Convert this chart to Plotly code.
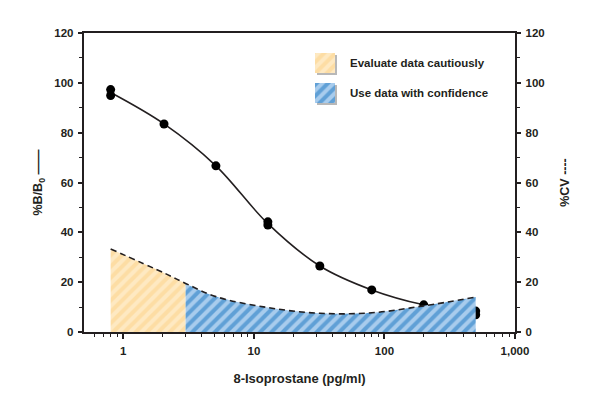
import math
import plotly.graph_objects as go

# ---------------- data ----------------
conc_rep = [0.8, 0.8, 2.05, 5.12, 12.8, 12.8, 32, 80, 200, 500, 500]
bb0_rep = [97.3, 94.9, 83.5, 66.7, 44.2, 42.9, 26.5, 16.9, 10.9, 8.4, 6.9]

conc = [0.8, 2.05, 5.12, 12.8, 32, 80, 200, 500]
bb0_mean = [96.1, 83.5, 66.7, 43.5, 26.5, 16.9, 10.9, 7.6]

cv_conc = [0.8, 2.05, 3.0, 5.12, 12.8, 32, 80, 200, 500]
cv = [33.3, 23.7, 19.5, 14.2, 9.8, 7.5, 7.7, 10.5, 14.0]

boundary = 3.0
legend_labels = ["Evaluate data cautiously", "Use data with confidence"]
x_tickvals = [1, 10, 100, 1000]
x_ticktext = ["1", "10", "100", "1,000"]

# ---------------- styles ----------------
INK = "#231f20"
FONT = "Liberation Sans, Arial, sans-serif"
YEL_BG, YEL_FG = "#fee9c2", "#fcd185"
BLU_BG, BLU_FG = "#a8cced", "#1774bf"

yel_pat = dict(shape="/", bgcolor=YEL_BG, fgcolor=YEL_FG, size=8, solidity=0.5)
blu_pat = dict(shape="/", bgcolor=BLU_BG, fgcolor=BLU_FG, size=8, solidity=0.5)

fig = go.Figure()

yx = [c for c in cv_conc if c <= boundary]
yy = [v for c, v in zip(cv_conc, cv) if c <= boundary]
bx = [c for c in cv_conc if c >= boundary]
by = [v for c, v in zip(cv_conc, cv) if c >= boundary]

fig.add_trace(go.Scatter(x=yx, y=yy, mode="lines", fill="tozeroy",
                         line=dict(width=0, shape="spline"), fillcolor=YEL_BG,
                         fillpattern=yel_pat, yaxis="y2", showlegend=False,
                         hoverinfo="skip"))
fig.add_trace(go.Scatter(x=bx, y=by, mode="lines", fill="tozeroy",
                         line=dict(width=0, shape="spline"), fillcolor=BLU_BG,
                         fillpattern=blu_pat, yaxis="y2", showlegend=False,
                         hoverinfo="skip"))
fig.add_trace(go.Scatter(x=cv_conc, y=cv, mode="lines", yaxis="y2",
                         line=dict(color=INK, width=1.6, dash="6px,4px", shape="spline"),
                         showlegend=False))

fig.add_trace(go.Scatter(x=conc, y=bb0_mean, mode="lines",
                         line=dict(color=INK, width=1.6, shape="spline"),
                         showlegend=False))
fig.add_trace(go.Scatter(x=conc_rep, y=bb0_rep, mode="markers",
                         marker=dict(color="black", size=9), showlegend=False))

# legend boxes on a pixel-like overlay axis (coordinates relative to plot area)
L_X0, L_X1 = 315, 335
boxes = [(53, 73, yel_pat, YEL_BG), (83, 103, blu_pat, BLU_BG)]
shapes = []
annotations = []
for (y0, y1, pat, bg), lab in zip(boxes, legend_labels):
    shapes.append(dict(type="rect", xref="x3", yref="y3", x0=L_X0 + 2, x1=L_X1 + 2,
                       y0=y0 + 2, y1=y1 + 2, fillcolor="#b8b8b8", line=dict(width=0),
                       layer="below"))
    fig.add_trace(go.Scatter(x=[L_X0, L_X1, L_X1, L_X0, L_X0], y=[y0, y0, y1, y1, y0],
                             mode="lines", fill="toself", fillcolor=bg, fillpattern=pat,
                             line=dict(width=0), xaxis="x3", yaxis="y3",
                             showlegend=False, hoverinfo="skip"))
    annotations.append(dict(xref="x3", yref="y3", x=348, y=(y0 + y1) / 2 - 0.5,
                            text=lab, showarrow=False, xanchor="left", yanchor="middle",
                            font=dict(family=FONT, size=11.5, color=INK, weight="bold")))

tickfont = dict(family=FONT, size=11.5, color=INK, weight="bold")
titlefont = dict(family=FONT, size=12.5, color=INK, weight="bold")

minor_x = [v * d for d in (0.1, 1, 10, 100) for v in range(2, 10)]
minor_x = [v for v in minor_x if v > 0.5 and v not in x_tickvals]

# page body adds an 8px offset; compensate in the margins
fig.update_layout(
    width=600, height=393,
    margin=dict(l=76, r=93, t=25, b=69),
    plot_bgcolor="white", paper_bgcolor="white",
    xaxis=dict(type="log", range=[math.log10(0.5), 3], tickmode="array",
               tickvals=x_tickvals, ticktext=x_ticktext, ticks="outside", ticklen=5,
               tickwidth=1.5, tickcolor=INK, showline=True, linecolor=INK, linewidth=1.5,
               mirror=True, showgrid=False, zeroline=False, tickfont=tickfont,
               automargin=False, ticklabelstandoff=2,
               minor=dict(tickmode="array", tickvals=minor_x, ticks="outside", ticklen=3.5,
                          tickwidth=1.2, tickcolor=INK, showgrid=False),
               title=dict(text="8-Isoprostane (pg/ml)", font=dict(titlefont, size=13),
                          standoff=18)),
    yaxis=dict(range=[0, 120], tickmode="linear", dtick=20, ticks="outside", ticklen=4.5,
               tickwidth=1.5, tickcolor=INK, showline=True, linecolor=INK, linewidth=1.5,
               showgrid=False, zeroline=False, tickfont=tickfont, automargin=False,
               ticklabelstandoff=2,
               minor=dict(dtick=10, ticks="outside", ticklen=3, tickwidth=1.2, tickcolor=INK),
               title=dict(text="%B/B<sub>0</sub> ——", font=titlefont, standoff=9)),
    yaxis2=dict(range=[0, 120], overlaying="y", side="right", tickmode="linear", dtick=20,
                ticks="outside", ticklen=4.5, tickwidth=1.5, tickcolor=INK, showline=True,
                linecolor=INK, linewidth=1.5, showgrid=False, zeroline=False,
                tickfont=tickfont, automargin=False, ticklabelstandoff=2,
                minor=dict(dtick=10, ticks="outside", ticklen=3, tickwidth=1.2, tickcolor=INK),
                title=dict(text="%CV ----", font=titlefont, standoff=17)),
    xaxis3=dict(overlaying="x", range=[84, 515], visible=False, anchor="y3"),
    yaxis3=dict(overlaying="y", range=[332, 33], visible=False, anchor="x3"),
    shapes=shapes, annotations=annotations,
)

fig.write_html("out.html")
